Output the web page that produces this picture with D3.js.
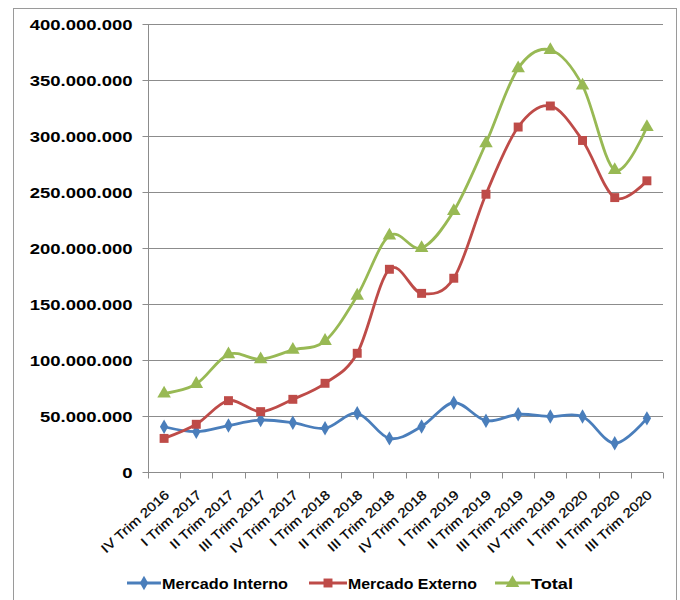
<!DOCTYPE html>
<html><head><meta charset="utf-8">
<script src="https://cdn.jsdelivr.net/npm/d3@7"></script>
<style>body{margin:0;background:#fff}svg{display:block}</style>
</head><body>
<svg id="c" width="680" height="600"></svg>
<script>
const categories = ["IV Trim 2016","I Trim 2017","II Trim 2017","III Trim 2017","IV Trim 2017","I Trim 2018","II Trim 2018","III Trim 2018","IV Trim 2018","I Trim 2019","II Trim 2019","III Trim 2019","IV Trim 2019","I Trim 2020","II Trim 2020","III Trim 2020"];
const interno = [40.4e6,36e6,41.5e6,46.4e6,44e6,39e6,52.4e6,30e6,40.6e6,61.9e6,45.8e6,51.5e6,49.5e6,49.5e6,25.6e6,47.9e6];
const externo = [30e6,42.6e6,63.7e6,53.9e6,64.9e6,79.2e6,106e6,181e6,159.5e6,173e6,248e6,308e6,326.8e6,296e6,245e6,260e6];
const total = [70e6,78.6e6,105e6,100.6e6,109e6,117e6,157.4e6,211e6,200e6,233e6,293.5e6,360.4e6,376.8e6,345e6,269.6e6,308e6];
const yTicks = [0,50e6,100e6,150e6,200e6,250e6,300e6,350e6,400e6];
const seriesNames = ["Mercado Interno","Mercado Externo","Total"];

const colors = ["#4A7EBB","#BE4B48","#98B954"];
const symbols = [d3.symbolDiamond, d3.symbolSquare, d3.symbolTriangle];
const symSizes = [60, 80, 80];
const series = [interno, externo, total];

const svg = d3.select("#c");
const L=148, R=663, T=24, B=472;
const font = "'Liberation Sans', Arial, sans-serif";

svg.append("rect").attr("x",13.5).attr("y",8.5).attr("width",663).attr("height",600)
  .attr("fill","none").attr("stroke","#9a9a9a").attr("stroke-width",1);

const x = d3.scaleBand().domain(categories).range([L,R]);
const y = d3.scaleLinear().domain([0,400e6]).range([B,T]);
const cx = c => x(c) + x.bandwidth()/2;

function stretch(sel, f){
  sel.each(function(){ const w=this.getComputedTextLength(); d3.select(this).attr("textLength", w*f).attr("lengthAdjust","spacingAndGlyphs"); });
}

// gridlines
svg.append("g").selectAll("line").data(yTicks.filter(d=>d>0)).join("line")
  .attr("x1",L).attr("x2",R).attr("y1",d=>Math.round(y(d))+0.5).attr("y2",d=>Math.round(y(d))+0.5)
  .attr("stroke","#8c8c8c").attr("stroke-width",1);

// y axis
const fmt = d => d3.format(",")(d).replace(/,/g,".");
const yAxis = svg.append("g").attr("transform",`translate(${L+0.5},0)`)
  .call(d3.axisLeft(y).tickValues(yTicks).tickSize(6).tickPadding(10).tickFormat(fmt));
yAxis.select(".domain").attr("stroke","#8c8c8c").attr("d",`M0,${T}V${B}`);
yAxis.selectAll(".tick line").attr("stroke","#8c8c8c");
yAxis.selectAll(".tick text").attr("font-family",font).attr("font-weight","bold").attr("font-size","14px").attr("fill","#000").attr("dy","0.36em");
stretch(yAxis.selectAll(".tick text"), 1.32);

// x axis
const xAxis = svg.append("g").attr("transform",`translate(0,${B+0.5})`);
xAxis.append("line").attr("x1",L).attr("x2",R).attr("stroke","#8c8c8c");
xAxis.selectAll("line.t").data(categories.concat(["_end"])).join("line").attr("class","t")
  .attr("x1",(d,i)=>Math.round(L + i*x.step())+0.5).attr("x2",(d,i)=>Math.round(L + i*x.step())+0.5)
  .attr("y1",0).attr("y2",6).attr("stroke","#8c8c8c");
const xl = svg.append("g").selectAll("text").data(categories).join("text")
  .attr("transform",d=>`translate(${cx(d)+6},${B+24}) rotate(-42)`)
  .attr("text-anchor","end").attr("font-family",font).attr("font-size","13px").attr("fill","#000")
  .attr("stroke","#000").attr("stroke-width",0.25)
  .text(d=>d);
stretch(xl, 1.17);

// lines
const line = d3.line().x((d,i)=>cx(categories[i])).y(d=>y(d)).curve(d3.curveCardinal.tension(0));
series.forEach((s,k)=>{
  svg.append("path").datum(s).attr("d",line).attr("fill","none").attr("stroke",colors[k]).attr("stroke-width",2.8);
});
series.forEach((s,k)=>{
  svg.append("g").selectAll("path").data(s).join("path")
    .attr("transform",(d,i)=>`translate(${cx(categories[i])},${y(d)})`)
    .attr("d",d3.symbol().type(symbols[k]).size(symSizes[k])).attr("fill",colors[k]);
});

// legend
const legendItems = [
  {x1:127,x2:161,tx:162,tw:126},
  {x1:309,x2:347,tx:348,tw:129},
  {x1:495,x2:530,tx:531,tw:42}
];
const ly = 583;
legendItems.forEach((it,k)=>{
  const g = svg.append("g");
  g.append("line").attr("x1",it.x1).attr("x2",it.x2).attr("y1",ly).attr("y2",ly).attr("stroke",colors[k]).attr("stroke-width",2.8);
  g.append("path").attr("transform",`translate(${(it.x1+it.x2)/2},${ly})`).attr("d",d3.symbol().type(symbols[k]).size(symSizes[k])).attr("fill",colors[k]);
  g.append("text").attr("x",it.tx).attr("y",ly+5.5).attr("font-family",font).attr("font-weight","bold").attr("font-size","15px").attr("fill","#000")
    .attr("textLength",it.tw).attr("lengthAdjust","spacingAndGlyphs").text(seriesNames[k]);
});
</script>
</body></html>
